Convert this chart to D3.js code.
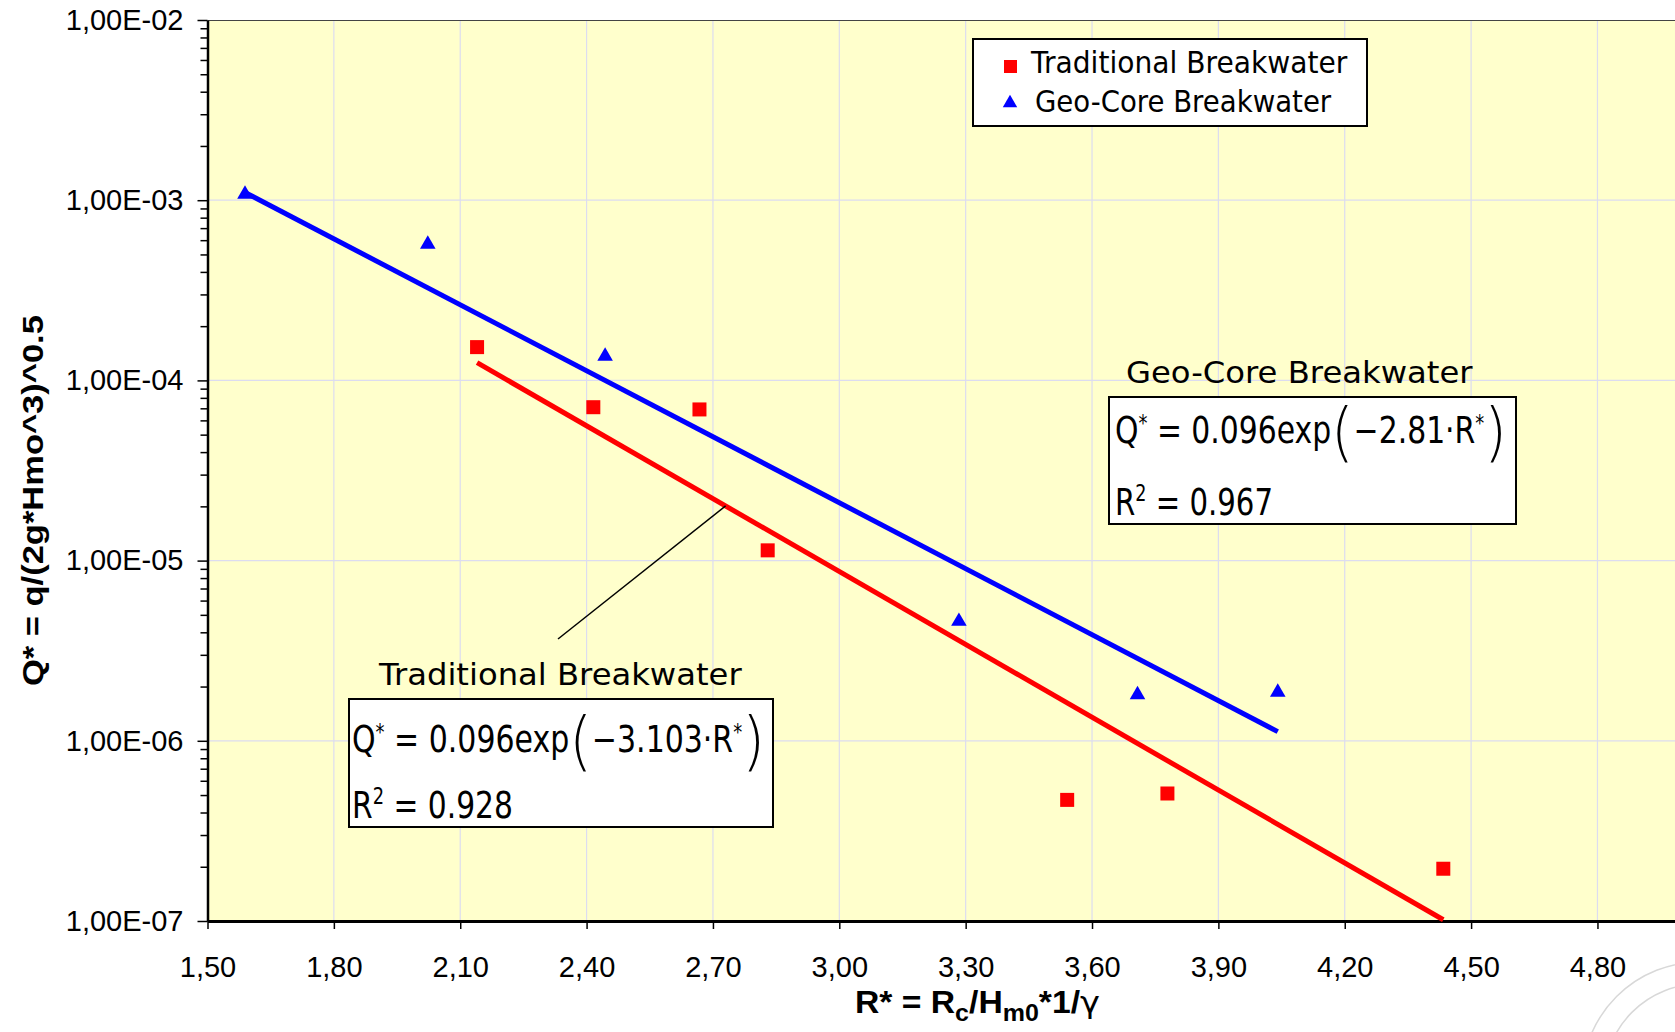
<!DOCTYPE html>
<html>
<head>
<meta charset="utf-8">
<script src="https://cdn.jsdelivr.net/npm/d3@7"></script>
<style>
  body { margin: 0; background: #fff; }
  svg { display: block; }
</style>
</head>
<body>
<svg id="chart"></svg>
<script>
var seriesNames = ["Traditional Breakwater", "Geo-Core Breakwater"];
var tradX = [2.14, 2.416, 2.668, 2.83, 3.541, 3.779, 4.434];
var tradY = [1.53e-4, 7.1e-5, 6.9e-5, 1.14e-5, 4.7e-7, 5.1e-7, 1.95e-7];
var geoX = [1.589, 2.023, 2.444, 3.284, 3.708, 4.041];
var geoY = [1.08e-3, 5.7e-4, 1.36e-4, 4.6e-6, 1.8e-6, 1.86e-6];

// exponential fits Q* = a exp(b R*)
var fitA = [0.096, 0.096];
var fitB = [-3.103, -2.81];
var fitR2 = ["0.928", "0.967"];

var xTicks = [1.5, 1.8, 2.1, 2.4, 2.7, 3.0, 3.3, 3.6, 3.9, 4.2, 4.5, 4.8];
var xTickLabels = ["1,50", "1,80", "2,10", "2,40", "2,70", "3,00", "3,30", "3,60", "3,90", "4,20", "4,50", "4,80"];
var yTicks = [1e-7, 1e-6, 1e-5, 1e-4, 1e-3, 1e-2];
var yTickLabels = ["1,00E-07", "1,00E-06", "1,00E-05", "1,00E-04", "1,00E-03", "1,00E-02"];

var width = 1675,
  height = 1032,
  plotLeft = 207.5,
  plotTop = 20,
  plotBottom = 921,
  red = "#ff0000",
  blue = "#0000ff",
  tickFont = "'Liberation Sans', Arial, sans-serif",
  labFont = "'DejaVu Sans', Verdana, sans-serif",
  eqFont = "'DejaVu Sans Condensed', 'DejaVu Sans', sans-serif";

var svg = d3.select("#chart").attr("width", width).attr("height", height);

var x = d3.scaleLinear().domain([1.5, 5.0]).range([plotLeft, plotLeft + 3.5 * 421.2]);
var y = d3.scaleLog().domain([1e-7, 1e-2]).range([plotBottom, plotTop]);

// stretch a text horizontally so it spans x0..x1
function fitText(t, x0, x1) {
  var b = t.node().getBBox(),
    k = (x1 - x0) / b.width;
  t.attr("x", 0).attr("transform", "translate(" + x0 + ",0) scale(" + k + ",1) translate(" + (-b.x) + ",0)");
  return t
}

// plot area
svg.append("rect").attr("x", plotLeft).attr("y", plotTop).attr("width", width - plotLeft).attr("height", plotBottom - plotTop).attr("fill", "#ffffcc");

var grid = svg.append("g").attr("stroke", "#dcdcf0").attr("stroke-width", 1.2);
grid.selectAll("line.v").data(xTicks.slice(1)).enter().append("line")
  .attr("x1", function (d) { return x(d) }).attr("x2", function (d) { return x(d) })
  .attr("y1", plotTop).attr("y2", plotBottom);
grid.selectAll("line.h").data(yTicks.slice(1, -1)).enter().append("line")
  .attr("x1", plotLeft).attr("x2", width)
  .attr("y1", function (d) { return y(d) }).attr("y2", function (d) { return y(d) });

svg.append("line").attr("x1", plotLeft).attr("x2", width).attr("y1", plotTop + 0.5).attr("y2", plotTop + 0.5)
  .attr("stroke", "#444").attr("stroke-width", 1);

// faint seal in the corner
var seal = svg.append("g").attr("fill", "none").attr("stroke", "#d8d8d8").attr("stroke-width", 1.5);
seal.append("circle").attr("cx", 1700).attr("cy", 1080).attr("r", 118);
seal.append("circle").attr("cx", 1700).attr("cy", 1080).attr("r", 96);

// axes
var minor = [];
yTicks.slice(0, -1).forEach(function (d) {
  for (var m = 2; m < 10; m++) minor.push(d * m)
});

svg.append("g").attr("transform", "translate(" + plotLeft + ",0)")
  .call(d3.axisLeft(y).tickValues(minor).tickSize(7).tickSizeOuter(0).tickFormat(""))
  .call(function (g) { g.select(".domain").remove() })
  .selectAll("line").attr("stroke-width", 1.5);

var yAx = svg.append("g").attr("transform", "translate(" + plotLeft + ",0)")
  .call(d3.axisLeft(y).tickValues(yTicks).tickSize(10).tickSizeOuter(0).tickPadding(14)
    .tickFormat(function (d, i) { return yTickLabels[i] }));
yAx.select(".domain").attr("stroke-width", 2.5);
yAx.selectAll("line").attr("stroke-width", 1.5);
yAx.selectAll("text").style("font-family", tickFont).style("font-size", "29px").attr("fill", "#000");

var xAx = svg.append("g").attr("transform", "translate(0," + plotBottom + ")")
  .call(d3.axisBottom(x).tickValues(xTicks).tickSize(8).tickSizeOuter(0)
    .tickFormat(function (d, i) { return xTickLabels[i] }));
xAx.select(".domain").attr("stroke-width", 3);
xAx.selectAll("line").attr("stroke-width", 1.5);
xAx.selectAll("text").attr("y", 56).attr("dy", 0).style("font-family", tickFont).style("font-size", "29px").attr("fill", "#000");

// axis titles
var xt = svg.append("text").attr("y", 1013).style("font-family", tickFont).style("font-weight", "bold").style("font-size", "31px");
xt.append("tspan").text("R* = R");
xt.append("tspan").attr("dy", 8).style("font-size", "23px").text("c");
xt.append("tspan").attr("dy", -8).text("/H");
xt.append("tspan").attr("dy", 8).style("font-size", "23px").text("m0");
xt.append("tspan").attr("dy", -8).text("*1/");
xt.append("tspan").style("font-family", "'DejaVu Sans'").style("font-weight", "normal").text("\u03b3");
fitText(xt, 855, 1100);

var ytg = svg.append("g").attr("transform", "translate(43,0) rotate(-90)");
var yt = ytg.append("text").attr("y", 0).style("font-family", tickFont).style("font-weight", "bold").style("font-size", "30px")
  .text("Q* = q/(2g*Hmo^3)^0.5");
fitText(yt, -686, -315);

// trend lines
var line = d3.line().x(function (d) { return x(d[0]) }).y(function (d) { return y(d[1]) });
function trend(xs, i) {
  var x0 = d3.min(xs), x1 = d3.max(xs);
  return [[x0, fitA[i] * Math.exp(fitB[i] * x0)], [x1, fitA[i] * Math.exp(fitB[i] * x1)]]
}
svg.append("path").datum(trend(geoX, 1)).attr("d", line).attr("fill", "none").attr("stroke", blue).attr("stroke-width", 5);
svg.append("path").datum(trend(tradX, 0)).attr("d", line).attr("fill", "none").attr("stroke", red).attr("stroke-width", 5);

// leader from the label to the red fit line
var rx = 2.73;
svg.append("line").attr("x1", x(rx)).attr("y1", y(fitA[0] * Math.exp(fitB[0] * rx)))
  .attr("x2", 558).attr("y2", 639).attr("stroke", "#000").attr("stroke-width", 1.5);

// markers
var tri = d3.symbol().type(d3.symbolTriangle).size(105);
svg.selectAll("path.geo").data(d3.zip(geoX, geoY)).enter().append("path")
  .attr("d", tri).attr("fill", blue)
  .attr("transform", function (d) { return "translate(" + x(d[0]) + "," + y(d[1]) + ")" });
svg.selectAll("rect.trad").data(d3.zip(tradX, tradY)).enter().append("rect")
  .attr("x", function (d) { return x(d[0]) - 7 }).attr("y", function (d) { return y(d[1]) - 7 })
  .attr("width", 14).attr("height", 14).attr("fill", red);

// legend
svg.append("rect").attr("x", 973).attr("y", 39).attr("width", 394).attr("height", 87)
  .attr("fill", "#fff").attr("stroke", "#000").attr("stroke-width", 2);
svg.append("rect").attr("x", 1004).attr("y", 60).attr("width", 13).attr("height", 13).attr("fill", red);
svg.append("path").attr("d", d3.symbol().type(d3.symbolTriangle).size(90)).attr("fill", blue)
  .attr("transform", "translate(1010,103)");
fitText(svg.append("text").attr("y", 73).style("font-family", labFont).style("font-size", "30px").text(seriesNames[0]), 1030, 1348);
fitText(svg.append("text").attr("y", 112).style("font-family", labFont).style("font-size", "30px").text(seriesNames[1]), 1035, 1332);

// equation boxes
function eqBox(i, bx, by, bw, bh, tx0, tx1, ty, ex0, ex1, ey, rx1, ry) {
  fitText(svg.append("text").attr("y", ty).style("font-family", labFont).style("font-size", "31px").text(seriesNames[i]), tx0, tx1);
  svg.append("rect").attr("x", bx).attr("y", by).attr("width", bw).attr("height", bh)
    .attr("fill", "#fff").attr("stroke", "#000").attr("stroke-width", 2);
  var fs = 37;
  var t = svg.append("text").attr("y", ey).style("font-family", eqFont).style("font-size", fs + "px");
  t.append("tspan").text("Q");
  t.append("tspan").attr("dy", -0.32 * fs).style("font-size", 0.6 * fs + "px").text("*");
  t.append("tspan").attr("dy", 0.32 * fs).text(" = " + fitA[i] + "exp");
  t.append("tspan").attr("dy", 0.3 * fs).style("font-size", 1.75 * fs + "px").style("font-family", "'DejaVu Sans'").style("font-weight", 200).text("(");
  t.append("tspan").attr("dy", -0.3 * fs).text("\u2212" + Math.abs(fitB[i]) + "\u00b7R");
  t.append("tspan").attr("dy", -0.32 * fs).style("font-size", 0.6 * fs + "px").text("*");
  t.append("tspan").attr("dy", 0.32 * fs + 0.3 * fs).style("font-size", 1.75 * fs + "px").style("font-family", "'DejaVu Sans'").style("font-weight", 200).text(")");
  fitText(t, ex0, ex1);
  var r = svg.append("text").attr("y", ry).style("font-family", eqFont).style("font-size", fs + "px");
  r.append("tspan").text("R");
  r.append("tspan").attr("dy", -0.37 * fs).style("font-size", 0.6 * fs + "px").text("2");
  r.append("tspan").attr("dy", 0.37 * fs).text(" = " + fitR2[i]);
  fitText(r, ex0, rx1);
}
eqBox(1, 1109, 397, 407, 127, 1126, 1473, 383, 1115, 1507, 443, 1273, 515);
eqBox(0, 349, 699, 424, 128, 378, 742, 685, 352, 765, 752, 513, 818);
</script>
</body>
</html>
